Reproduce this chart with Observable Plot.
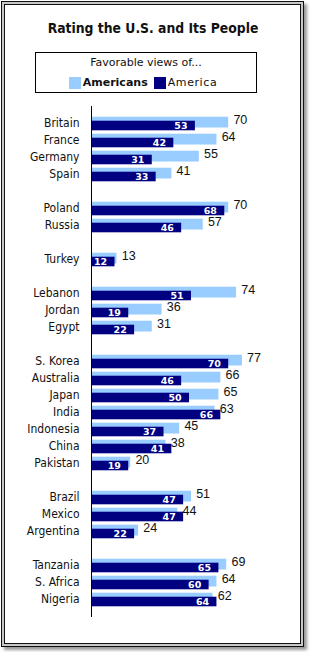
<!DOCTYPE html>
<html><head><meta charset="utf-8">
<script src="https://cdn.jsdelivr.net/npm/d3@7"></script>
<script src="https://cdn.jsdelivr.net/npm/@observablehq/plot@0.6"></script>
<style>
body{margin:0;background:#fff;width:314px;height:652px;position:relative;overflow:hidden;font-family:"DejaVu Sans",sans-serif;color:#111;}
#frame{position:absolute;left:1px;top:1px;width:303px;height:646px;box-sizing:border-box;border:1px solid #111;box-shadow:inset 0 0 0 2px #c8c8c8, inset 0 0 0 3px #111, 3px 3px 3px #999;}
#title{position:absolute;left:0;width:306px;top:20px;text-align:center;font-family:"DejaVu Sans Condensed","DejaVu Sans",sans-serif;font-weight:bold;font-size:13.8px;line-height:17px;}
#legend{position:absolute;left:35px;top:52px;width:222px;height:41px;box-sizing:border-box;border:1px solid #000;}
#legend .lt{position:absolute;left:0;width:100%;top:3px;text-align:center;font-size:11px;line-height:14px;}
#legend .lr{position:absolute;left:0;width:100%;top:23px;height:13px;display:flex;justify-content:center;align-items:center;font-size:11px;line-height:13px;}
.sw{display:inline-block;width:12px;height:12px;margin-right:2px;}
.lab{margin-right:6px;}
#chart{position:absolute;left:0;top:96px;}
</style>
</head><body>
<div id="frame"></div>
<div id="title">Rating the U.S. and Its People</div>
<div id="legend"><div class="lt">Favorable views of...</div><div class="lr" id="lr"></div></div>
<div id="chart"></div>
<script>
const countries = ["Britain","France","Germany","Spain","Poland","Russia","Turkey","Lebanon","Jordan","Egypt","S. Korea","Australia","Japan","India","Indonesia","China","Pakistan","Brazil","Mexico","Argentina","Tanzania","S. Africa","Nigeria"];
const americans = [70,64,55,41,70,57,13,74,36,31,77,66,65,63,45,38,20,51,44,24,69,64,62];
const america   = [53,42,31,33,68,46,12,51,19,22,70,46,50,66,37,41,19,47,47,22,65,60,64];
const groupSizes = [4,2,1,3,7,3,3];
const seriesNames = ["Americans","America"];
const seriesColors = ["#99ccff","#000080"];
const seriesWeights = ["bold","normal"];

// legend
const lr = document.getElementById("lr");
seriesNames.forEach((n,i)=>{
  const s=document.createElement("span");s.className="sw";s.style.background=seriesColors[i];lr.appendChild(s);
  const t=document.createElement("span");t.className="lab";t.textContent=n;t.style.fontWeight=seriesWeights[i];
  if(i===1){t.style.letterSpacing="0.6px";}
  lr.appendChild(t);
});

// y domain with spacer slots between groups
const domain = [];
let k = 0;
groupSizes.forEach((n,g)=>{
  if(g>0) domain.push("gap"+g);
  for(let i=0;i<n;i++) domain.push(countries[k++]);
});
const rows = countries.map((c,i)=>({country:c, americans:americans[i], america:america[i]}));

const chart = Plot.plot({
  width: 314, height: 531,
  marginTop: 10, marginBottom: 10, marginLeft: 91, marginRight: 27,
  x: {domain:[0,100], axis:null},
  y: {domain, padding:0, axis:null, label:null},
  style: {background:"transparent", fontFamily:"DejaVu Sans", fontSize:"11px", color:"#111"},
  marks: [
    Plot.barX(rows, {y:"country", x:"americans", fill:seriesColors[0], insetTop:1.7, insetBottom:4.5}),
    Plot.barX(rows, {y:"country", x:"america", fill:seriesColors[1], insetTop:5.7, insetBottom:1.7}),
    Plot.ruleX([0], {stroke:"#000", strokeWidth:1}),
    Plot.axisY(countries, {anchor:"left", tickSize:0, tickPadding:12, fontSize:12, fontFamily:"DejaVu Sans Condensed, DejaVu Sans", label:null, dy:-1}),
    Plot.text(rows, {y:"country", x:"americans", text:d=>String(d.americans), dx:4.7, dy:-4.5, textAnchor:"start", fontSize:12.5, fontFamily:"Liberation Sans", fill:"#111"}),
    Plot.text(rows, {y:"country", x:"america", text:d=>String(d.america), dx:-7.8, dy:2, textAnchor:"end", fill:"#fff", fontWeight:"bold", fontSize:9.5, fontFamily:"DejaVu Sans"})
  ]
});
document.getElementById("chart").appendChild(chart);
</script>
</body></html>
